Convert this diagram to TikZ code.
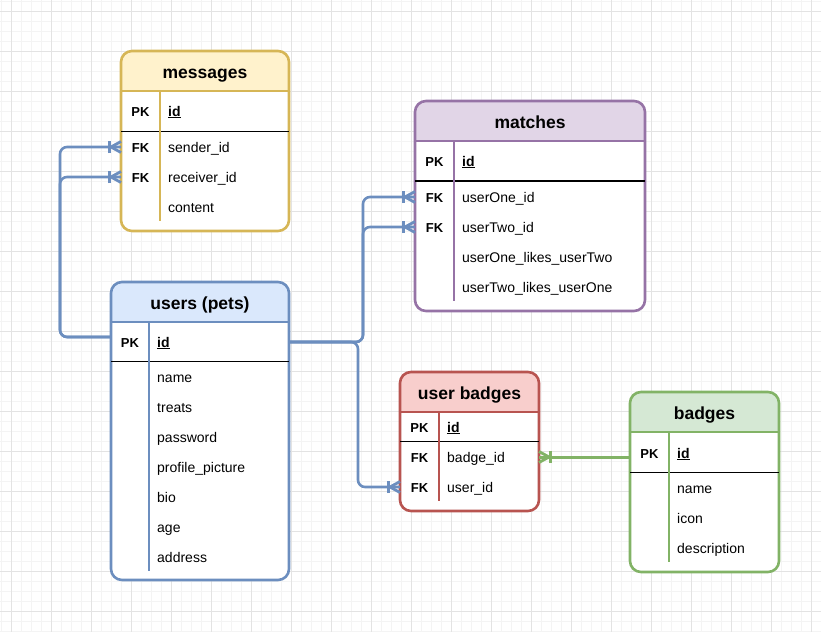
\documentclass[tikz,border=0pt]{standalone}
\usepackage{fontspec}
\setmainfont{Liberation Sans}
\usetikzlibrary{calc,fit}
\definecolor{yfill}{HTML}{FFF2CC}\definecolor{ystroke}{HTML}{D6B656}
\definecolor{pfill}{HTML}{E1D5E7}\definecolor{pstroke}{HTML}{9673A6}
\definecolor{bfill}{HTML}{DAE8FC}\definecolor{bstroke}{HTML}{6C8EBF}
\definecolor{rfill}{HTML}{F8CECC}\definecolor{rstroke}{HTML}{B85450}
\definecolor{gfill}{HTML}{D5E8D4}\definecolor{gstroke}{HTML}{82B366}
\definecolor{gridmajor}{HTML}{E3E3E3}\definecolor{gridminor}{HTML}{F4F4F4}
\tikzset{
  lw/.style={line width=2.6pt},
  titletext/.style={font=\bfseries\fontsize{17.5}{20}\selectfont, inner sep=0pt, anchor=base},
  keytext/.style={font=\bfseries\fontsize{13}{15}\selectfont, inner sep=0pt, anchor=base},
  fieldtext/.style={font=\fontsize{14}{16}\selectfont, inner sep=0pt, anchor=base west},
  rel/.style={draw=bstroke, lw, rounded corners=7pt},
  grel/.style={draw=gstroke, line width=3pt},
}
% name, x1, y1, x2, y2, yheader, fill, stroke, title
\newcommand\ertable[9]{%
  \fill[white, rounded corners=11pt] (#2,#3) rectangle (#4,#5);
  \begin{scope}
    \clip (#2,#3) rectangle (#4,#6);
    \fill[#7, rounded corners=11pt] (#2,#3) rectangle (#4,#5);
  \end{scope}
  \node[draw=#8, lw, rounded corners=11pt, inner sep=0pt, outer sep=0pt, fit={(#2,#3) (#4,#5)}] (#1) {};
  \draw[#8, lw] (#2,#6) -- (#4,#6);
  \node[titletext] (#1-title) at ($($(#2,#3)!0.5!(#4,#6)$)+(0pt,-7pt)$) {#9};
}
% name, keyx, fieldx, y, key, field
\newcommand\erkeyrow[6]{%
  \node[keytext] (#1-k) at ($(#2,#4)+(0pt,-5pt)$) {#5};
  \node[fieldtext] (#1) at ($(#3,#4)+(0pt,-5pt)$) {#6};
}
% name, fieldx, y, field
\newcommand\erfield[4]{\node[fieldtext] (#1) at ($(#2,#3)+(0pt,-5pt)$) {#4};}
% point, xscale, colour
\newcommand\crowfoot[3]{%
  \begin{scope}[shift={(#1)}, xscale=#2]
    \draw[#3, line width=2.8pt] (-10pt,0pt) -- (0pt,5.5pt);
    \draw[#3, line width=2.8pt] (-10pt,0pt) -- (0pt,-5.5pt);
    \draw[#3, line width=2.8pt] (-11.5pt,-6pt) -- (-11.5pt,6pt);
  \end{scope}}
\begin{document}
\begin{tikzpicture}[x=1pt, y=-1pt]
\useasboundingbox (0,0) rectangle (821,632);
\fill[white] (0,0) rectangle (821,632);
% grid
\foreach \x in {1,11,...,821} \draw[gridminor, line width=0.8pt] (\x,0) -- (\x,632);
\foreach \y in {1,11,...,632} \draw[gridminor, line width=0.8pt] (0,\y) -- (821,\y);
\foreach \x in {11,51,...,821} \draw[gridmajor, line width=1pt] (\x,0) -- (\x,632);
\foreach \y in {11,51,...,632} \draw[gridmajor, line width=1pt] (0,\y) -- (821,\y);

% messages
\ertable{messages}{121}{51}{289}{231}{91}{yfill}{ystroke}{messages}
\draw[black, line width=1pt] (121,131) -- (289,131);
\draw[ystroke, lw] (160,91) -- (160,221);
\erkeyrow{m-id}{140.5}{168}{111}{PK}{\underline{\textbf{id}}}
\erkeyrow{m-sender}{140.5}{168}{147}{FK}{sender\_id}
\erkeyrow{m-receiver}{140.5}{168}{177}{FK}{receiver\_id}
\erfield{m-content}{168}{207}{content}

% matches
\ertable{matches}{415}{101}{645}{311}{141}{pfill}{pstroke}{matches}
\draw[black, line width=1.5pt] (415,181) -- (645,181);
\draw[pstroke, lw] (454,141) -- (454,301);
\erkeyrow{t-id}{434.5}{462}{161}{PK}{\underline{\textbf{id}}}
\erkeyrow{t-one}{434.5}{462}{197}{FK}{userOne\_id}
\erkeyrow{t-two}{434.5}{462}{227}{FK}{userTwo\_id}
\erfield{t-olt}{462}{257}{userOne\_likes\_userTwo}
\erfield{t-tlo}{462}{287}{userTwo\_likes\_userOne}

% users
\ertable{users}{111}{282}{289}{580}{322}{bfill}{bstroke}{users (pets)}
\draw[black, line width=1pt] (111,361) -- (289,361);
\draw[bstroke, lw] (149,322) -- (149,571);
\erkeyrow{u-id}{130}{157}{342}{PK}{\underline{\textbf{id}}}
\erfield{u-name}{157}{377}{name}
\erfield{u-treats}{157}{407}{treats}
\erfield{u-password}{157}{437}{password}
\erfield{u-picture}{157}{467}{profile\_picture}
\erfield{u-bio}{157}{497}{bio}
\erfield{u-age}{157}{527}{age}
\erfield{u-address}{157}{557}{address}

% user badges
\ertable{ubadges}{400}{372}{539}{511}{412}{rfill}{rstroke}{user badges}
\draw[black, line width=1pt] (400,441) -- (539,441);
\draw[rstroke, lw] (439,412) -- (439,501);
\erkeyrow{ub-id}{419.5}{447}{427}{PK}{\underline{\textbf{id}}}
\erkeyrow{ub-badge}{419.5}{447}{457}{FK}{badge\_id}
\erkeyrow{ub-user}{419.5}{447}{487}{FK}{user\_id}

% badges
\ertable{badges}{630}{392}{779}{572}{432}{gfill}{gstroke}{badges}
\draw[black, line width=1pt] (630,472) -- (779,472);
\draw[gstroke, lw] (669,432) -- (669,562);
\erkeyrow{b-id}{649.5}{677}{453}{PK}{\underline{\textbf{id}}}
\erfield{b-name}{677}{488}{name}
\erfield{b-icon}{677}{518}{icon}
\erfield{b-desc}{677}{548}{description}

% connector end points on the table borders
\coordinate (uL) at (111,337);
\coordinate (uR) at (289,342);
\coordinate (mS) at (121,147);
\coordinate (mR) at (121,177);
\coordinate (tO) at (415,197);
\coordinate (tT) at (415,227);
\coordinate (ubU) at (400,487);
\coordinate (ubB) at (539,457);
\coordinate (bB) at (630,457);

% relations
\draw[rel] (uL) -- ++(-51pt,0pt) |- (mS);
\draw[rel] (uL) -- ++(-51pt,0pt) |- (mR);
\draw[rel] (uR) -- ++(74pt,0pt) |- (tO);
\draw[rel] (uR) -- ++(74pt,0pt) |- (tT);
\draw[rel] (uR) -- ++(69pt,0pt) |- (ubU);
\draw[grel] (bB) -- (ubB);

\crowfoot{mS}{1}{bstroke}
\crowfoot{mR}{1}{bstroke}
\crowfoot{tO}{1}{bstroke}
\crowfoot{tT}{1}{bstroke}
\crowfoot{ubU}{1}{bstroke}
\crowfoot{ubB}{-1}{gstroke}
\end{tikzpicture}
\end{document}
